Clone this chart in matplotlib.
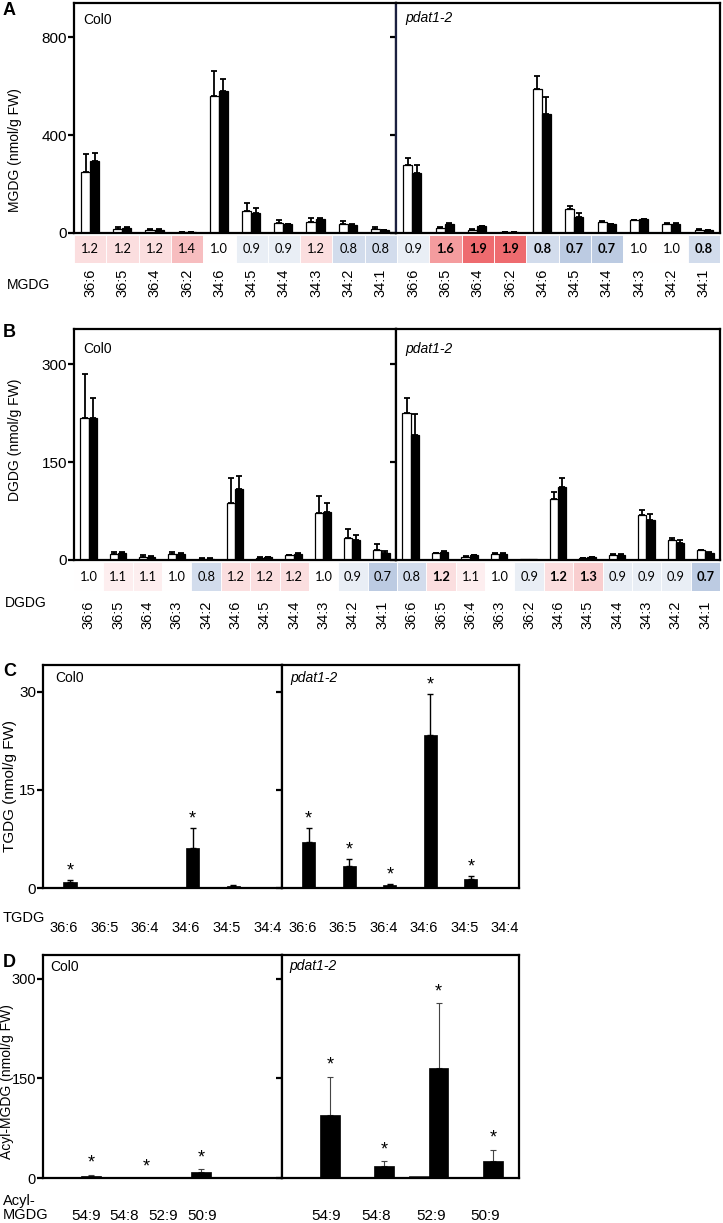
import numpy as np
import matplotlib.pyplot as plt
from matplotlib.colors import LinearSegmentedColormap, TwoSlopeNorm

plt.rcParams['font.family'] = ['Liberation Sans', 'DejaVu Sans']

W, H = 723, 1223

# ---------------- data ----------------
# A: MGDG (nmol/g FW); open = white bars, fill = black bars
mgdg_species = ['36:6', '36:5', '36:4', '36:2', '34:6', '34:5', '34:4', '34:3', '34:2', '34:1']
mgdg_col0_open = [250, 18, 12, 3, 559, 90, 42, 46, 37, 18]
mgdg_col0_open_err = [72, 5, 4, 1, 103, 34, 11, 14, 13, 7]
mgdg_col0_fill = [295, 22, 14, 3, 581, 83, 36, 57, 33, 12]
mgdg_col0_fill_err = [33, 3, 2, 1, 46, 19, 2, 3, 2, 2]
mgdg_pdat_open = [277, 22, 14, 3, 589, 97, 46, 53, 38, 14]
mgdg_pdat_open_err = [30, 4, 3, 1, 52, 14, 3, 2, 2, 2]
mgdg_pdat_fill = [244, 37, 27, 5, 486, 67, 35, 56, 38, 12]
mgdg_pdat_fill_err = [32, 3, 2, 1, 69, 13, 2, 2, 2, 1]
mgdg_col0_ratio = [1.2, 1.2, 1.2, 1.4, 1.0, 0.9, 0.9, 1.2, 0.8, 0.8]
mgdg_pdat_ratio = [0.9, 1.6, 1.9, 1.9, 0.8, 0.7, 0.7, 1.0, 1.0, 0.8]
mgdg_col0_bold = [0, 0, 0, 0, 0, 0, 0, 0, 0, 0]
mgdg_pdat_bold = [0, 1, 1, 1, 1, 1, 1, 0, 0, 1]

# B: DGDG
dgdg_col0_species = ['36:6', '36:5', '36:4', '36:3', '34:2', '34:6', '34:5', '34:4', '34:3', '34:2', '34:1']
dgdg_pdat_species = ['36:6', '36:5', '36:4', '36:3', '36:2', '34:6', '34:5', '34:4', '34:3', '34:2', '34:1']
dgdg_col0_open = [217, 9, 4, 9, 2, 87, 3, 7, 72, 34, 16]
dgdg_col0_open_err = [68, 4, 4, 3, 0.5, 39, 1, 1, 26, 14, 8]
dgdg_col0_fill = [218, 11, 5, 8.5, 2, 108, 4, 9, 74, 30, 11]
dgdg_col0_fill_err = [30, 2, 1, 1.5, 0.5, 21, 0.5, 1, 14, 8, 3]
dgdg_pdat_open = [225, 10, 5, 9, 1, 93, 3, 8, 69, 30, 15]
dgdg_pdat_open_err = [23, 1, 1, 1, 0, 11, 0.5, 1, 8, 3, 1]
dgdg_pdat_fill = [192, 13, 7, 9, 1, 111, 4, 8, 61, 26, 11]
dgdg_pdat_fill_err = [31, 1, 1, 1, 0, 14, 0.5, 1, 10, 4, 1]
dgdg_col0_ratio = [1.0, 1.1, 1.1, 1.0, 0.8, 1.2, 1.2, 1.2, 1.0, 0.9, 0.7]
dgdg_pdat_ratio = [0.8, 1.2, 1.1, 1.0, 0.9, 1.2, 1.3, 0.9, 0.9, 0.9, 0.7]
dgdg_col0_bold = [0, 0, 0, 0, 0, 0, 0, 0, 0, 0, 0]
dgdg_pdat_bold = [0, 1, 0, 0, 0, 1, 1, 0, 0, 0, 1]

# C: TGDG
tgdg_species = ['36:6', '36:5', '36:4', '34:6', '34:5', '34:4']
tgdg_col0_open = [0, 0.1, 0.05, 0.05, 0.15, 0]
tgdg_col0_fill = [0.97, 0.15, 0.05, 6.1, 0.3, 0]
tgdg_col0_fill_err = [0.25, 0, 0, 3.1, 0.1, 0]
tgdg_col0_star = [1, 0, 0, 1, 0, 0]
tgdg_pdat_open = [0, 0, 0, 0, 0.05, 0]
tgdg_pdat_fill = [7.1, 3.4, 0.4, 23.4, 1.4, 0]
tgdg_pdat_fill_err = [2.1, 1.0, 0.2, 6.2, 0.4, 0]
tgdg_pdat_star = [1, 1, 1, 1, 1, 0]

# D: Acyl-MGDG
acyl_species = ['54:9', '54:8', '52:9', '50:9']
acyl_col0_open = [0.5, 0.3, 1.0, 0.5]
acyl_col0_fill = [3.5, 0.3, 9.5, 0.5]
acyl_col0_fill_err = [1.5, 0, 3.5, 0]
acyl_col0_star = [1, 1, 1, 0]
acyl_pdat_open = [1.5, 1.5, 2.5, 1.5]
acyl_pdat_fill = [95.6, 17.6, 165, 25.6]
acyl_pdat_fill_err = [57, 8, 98, 17]
acyl_pdat_star = [1, 1, 1, 1]

cmap = LinearSegmentedColormap.from_list('ratio', ['#bccbe2', '#ffffff', '#ee6b6f'])
norm = TwoSlopeNorm(vmin=0.7, vcenter=1.0, vmax=1.9)


def px_axes(fig, x0, y0, x1, y1):
    return fig.add_axes([x0 / W, 1 - y1 / H, (x1 - x0) / W, (y1 - y0) / H])


def ftext(fig, x, y, s, **kw):
    fig.text(x / W, 1 - y / H, s, **kw)


def style(ax, lw, ymax, yticks, show_labels, fs):
    for s in ax.spines.values():
        s.set_linewidth(lw)
    ax.set_ylim(0, ymax)
    ax.set_yticks(yticks)
    ax.tick_params(axis='y', direction='out', length=4, width=lw, pad=1,
                   labelsize=fs, labelleft=show_labels)


def bars(ax, open_v, fill_v, width, fill_err=None, open_err=None,
         ecol='black', elw=1.3, cap=2.2, stars=None, star_off=1, edge=0.9):
    x = np.arange(len(fill_v))
    ax.bar(x - width / 2, open_v, width, color='white', edgecolor='black',
           linewidth=edge, zorder=2)
    ax.bar(x + width / 2, fill_v, width, color='black', edgecolor='black',
           linewidth=edge, zorder=2)
    for xs, v, e in [(x - width / 2, open_v, open_err), (x + width / 2, fill_v, fill_err)]:
        if e is None:
            continue
        v = np.asarray(v, float)
        e = np.asarray(e, float)
        m = e > 0
        ax.errorbar(xs[m], v[m], yerr=[np.zeros(m.sum()), e[m]], fmt='none',
                    ecolor=ecol, elinewidth=elw, capsize=cap, capthick=elw, zorder=1)
    if stars is not None:
        top = np.asarray(fill_v, float) + (np.asarray(fill_err, float) if fill_err is not None else 0)
        for xi, t, s in zip(x + width / 2, top, stars):
            if s:
                ax.annotate('*', (xi, t), xytext=(0, star_off), textcoords='offset points',
                            ha='center', va='bottom', fontsize=13)


def ratio_row(ax, ratios, bolds, labels, pad):
    n = len(ratios)
    x = np.arange(n)
    ax.bar(x, np.ones(n), 1.0, color=cmap(norm(ratios)), edgecolor='white', linewidth=0.6)
    for xi, r, b in zip(x, ratios, bolds):
        ax.text(xi, 0.5, f'{r:.1f}', ha='center', va='center', fontsize=9.3,
                family=['Lato', 'DejaVu Sans'], fontweight='bold' if b else 'normal')
    ax.set_xlim(-0.5, n - 0.5)
    ax.set_ylim(0, 1)
    ax.set_xticks(x, labels, rotation=90, fontsize=10.5)
    ax.tick_params(axis='x', length=0, pad=pad)
    ax.set_yticks([])
    for s in ax.spines.values():
        s.set_visible(False)


fig = plt.figure(figsize=(W / 100, H / 100), dpi=100)

# ---------------- A ----------------
axL = px_axes(fig, 74, 3, 396, 233)
axR = px_axes(fig, 396, 3, 720, 233)
for ax, ov, oe, fv, fe, lab in [
        (axL, mgdg_col0_open, mgdg_col0_open_err, mgdg_col0_fill, mgdg_col0_fill_err, True),
        (axR, mgdg_pdat_open, mgdg_pdat_open_err, mgdg_pdat_fill, mgdg_pdat_fill_err, False)]:
    bars(ax, ov, fv, 0.28, fill_err=fe, open_err=oe)
    ax.set_xlim(-0.5, 9.5)
    ax.set_xticks([])
    style(ax, 1.6, 939, [0, 400, 800], lab, 11)
axR.spines['left'].set_color('#1b2040')
axA = px_axes(fig, 74, 235, 720, 263)
ratio_row(axA, mgdg_col0_ratio + mgdg_pdat_ratio, mgdg_col0_bold + mgdg_pdat_bold,
          mgdg_species + mgdg_species, 4)
ftext(fig, 3, 2, 'A', fontsize=13, fontweight='bold', va='top')
ftext(fig, 15, 150, 'MGDG (nmol/g FW)', rotation=90, ha='center', va='center', fontsize=10)
ftext(fig, 83, 20, 'Col0', fontsize=10, va='center')
ftext(fig, 405, 18, 'pdat1-2', fontsize=10, va='center', style='italic')
ftext(fig, 7, 285, 'MGDG', fontsize=10, va='center')

# ---------------- B ----------------
axL = px_axes(fig, 74, 329, 396, 560)
axR = px_axes(fig, 396, 329, 720, 560)
for ax, ov, oe, fv, fe, lab in [
        (axL, dgdg_col0_open, dgdg_col0_open_err, dgdg_col0_fill, dgdg_col0_fill_err, True),
        (axR, dgdg_pdat_open, dgdg_pdat_open_err, dgdg_pdat_fill, dgdg_pdat_fill_err, False)]:
    bars(ax, ov, fv, 0.28, fill_err=fe, open_err=oe)
    ax.set_xlim(-0.5, 10.5)
    ax.set_xticks([])
    style(ax, 1.6, 353.6, [0, 150, 300], lab, 11)
axB = px_axes(fig, 74, 562, 720, 591)
ratio_row(axB, dgdg_col0_ratio + dgdg_pdat_ratio, dgdg_col0_bold + dgdg_pdat_bold,
          dgdg_col0_species + dgdg_pdat_species, 7)
ftext(fig, 3, 324, 'B', fontsize=13, fontweight='bold', va='top')
ftext(fig, 15, 440, 'DGDG (nmol/g FW)', rotation=90, ha='center', va='center', fontsize=10)
ftext(fig, 83, 349, 'Col0', fontsize=10, va='center')
ftext(fig, 405, 349, 'pdat1-2', fontsize=10, va='center', style='italic')
ftext(fig, 5, 603, 'DGDG', fontsize=10, va='center')

# ---------------- C ----------------
axL = px_axes(fig, 43, 665, 282, 888)
axR = px_axes(fig, 282, 665, 519, 888)
for ax, ov, fv, fe, st, lab in [
        (axL, tgdg_col0_open, tgdg_col0_fill, tgdg_col0_fill_err, tgdg_col0_star, True),
        (axR, tgdg_pdat_open, tgdg_pdat_fill, tgdg_pdat_fill_err, tgdg_pdat_star, False)]:
    bars(ax, ov, fv, 0.32, fill_err=fe, elw=1.0, cap=2, stars=st, star_off=0.5, edge=0.5)
    ax.set_xlim(-0.5, 5.35)
    ax.set_xticks(np.arange(len(tgdg_species)), tgdg_species, fontsize=10.5)
    ax.tick_params(axis='x', length=0, pad=24)
    style(ax, 1.6, 34.1, [0, 15, 30], lab, 11)
ftext(fig, 3, 663, 'C', fontsize=13, fontweight='bold', va='top')
ftext(fig, 10, 786, 'TGDG (nmol/g FW)', rotation=90, ha='center', va='center', fontsize=11)
ftext(fig, 55, 678, 'Col0', fontsize=10, va='center')
ftext(fig, 290, 678, 'pdat1-2', fontsize=10, va='center', style='italic')
ftext(fig, 3, 918, 'TGDG', fontsize=10.5, va='center')

# ---------------- D ----------------
axL = px_axes(fig, 43, 955, 282, 1178)
axR = px_axes(fig, 282, 955, 519, 1178)
narrow = ['Liberation Sans Narrow', 'Liberation Sans', 'DejaVu Sans']
acyl_col0_label_pos = [0.08, 0.78, 1.49, 2.21]
acyl_pdat_label_pos = [0.12, 1.04, 2.04, 3.04]
for ax, ov, fv, fe, st, lab, lpos in [
        (axL, acyl_col0_open, acyl_col0_fill, acyl_col0_fill_err, acyl_col0_star, True, acyl_col0_label_pos),
        (axR, acyl_pdat_open, acyl_pdat_fill, acyl_pdat_fill_err, acyl_pdat_star, False, acyl_pdat_label_pos)]:
    bars(ax, ov, fv, 0.36, fill_err=fe, ecol='#444444', elw=0.8, cap=2, stars=st, star_off=2, edge=0.5)
    ax.set_xlim(-0.7, 3.66)
    ax.set_xticks(lpos, acyl_species, fontsize=11, family=narrow)
    ax.tick_params(axis='x', length=0, pad=22)
    style(ax, 1.6, 336, [0, 150, 300], lab, 10.5)
    for t in ax.get_yticklabels():
        t.set_family(narrow)
ftext(fig, 3, 954, 'D', fontsize=13, fontweight='bold', va='top')
ftext(fig, 7, 1082, 'Acyl-MGDG (nmol/g FW)', rotation=90, ha='center', va='center', fontsize=10)
ftext(fig, 50, 967, 'Col0', fontsize=10, va='center', family=narrow)
ftext(fig, 289, 966, 'pdat1-2', fontsize=10, va='center', style='italic', family=narrow)
ftext(fig, 3, 1208, 'Acyl-\nMGDG', fontsize=10.5, va='center', linespacing=1.0)

fig.savefig('out.png', dpi=100)
